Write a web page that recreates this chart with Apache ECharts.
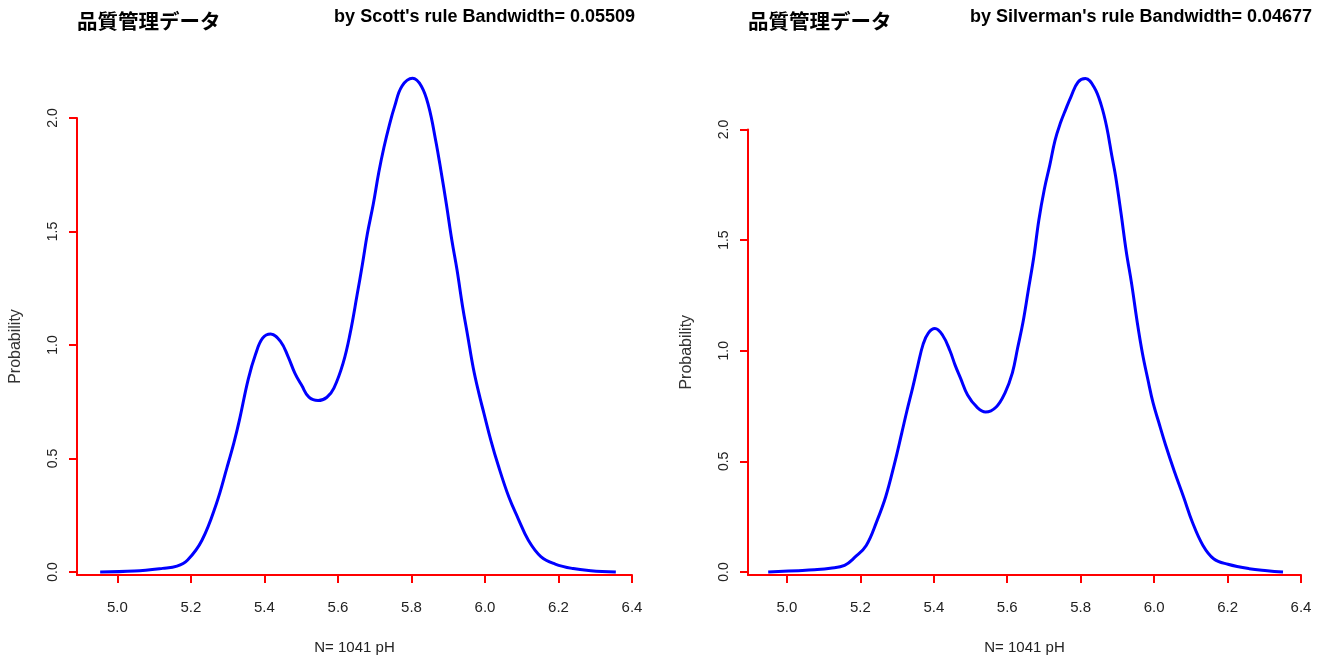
<!DOCTYPE html>
<html>
<head>
<meta charset="utf-8">
<script src="https://cdn.jsdelivr.net/npm/echarts@6/dist/echarts.min.js"></script>
<style>html,body{margin:0;padding:0;background:#fff}#c{width:1330px;height:661px}</style>
</head>
<body>
<div id="c"></div>
<script>
// ---- data ----
const mainTitle = '品質管理データ';
const leftSubtitle = "by Scott's rule Bandwidth= 0.05509";
const rightSubtitle = "by Silverman's rule Bandwidth= 0.04677";
const xAxisTitle = 'N= 1041 pH';
const yAxisTitle = 'Probability';
const xTicks = [5.0, 5.2, 5.4, 5.6, 5.8, 6.0, 6.2, 6.4];
const yTicks = [0.0, 0.5, 1.0, 1.5, 2.0];

const scottX = [4.953,5.046,5.123,5.162,5.191,5.23,5.269,5.298,5.317,5.332,5.356,5.376,5.395,5.417,5.444,5.464,5.483,5.502,5.521,5.546,5.57,5.589,5.614,5.633,5.652,5.667,5.68,5.696,5.711,5.725,5.74,5.754,5.774,5.803,5.827,5.847,5.866,5.88,5.895,5.91,5.924,5.939,5.953,5.968,5.983,5.997,6.016,6.036,6.065,6.089,6.118,6.152,6.191,6.24,6.288,6.356];
const scottY = [0.0,0.004,0.016,0.026,0.053,0.14,0.30,0.46,0.57,0.67,0.85,0.96,1.03,1.048,1.015,0.95,0.875,0.82,0.77,0.755,0.77,0.81,0.92,1.05,1.22,1.36,1.49,1.62,1.76,1.87,1.97,2.05,2.14,2.175,2.14,2.05,1.90,1.77,1.62,1.46,1.33,1.17,1.04,0.90,0.79,0.70,0.58,0.47,0.33,0.24,0.14,0.068,0.035,0.015,0.006,0.0];

const silvX = [4.949,5.031,5.075,5.118,5.157,5.186,5.216,5.245,5.269,5.293,5.313,5.327,5.342,5.356,5.371,5.385,5.403,5.424,5.444,5.458,5.473,5.492,5.517,5.541,5.57,5.594,5.614,5.628,5.643,5.657,5.672,5.686,5.701,5.716,5.73,5.745,5.759,5.774,5.793,5.813,5.837,5.856,5.871,5.885,5.895,5.91,5.924,5.939,5.953,5.968,5.983,5.997,6.012,6.031,6.055,6.08,6.104,6.133,6.162,6.201,6.259,6.308,6.351];
const silvY = [0.0,0.006,0.01,0.017,0.03,0.068,0.12,0.23,0.34,0.49,0.63,0.73,0.83,0.93,1.03,1.08,1.10,1.07,1.00,0.935,0.875,0.80,0.746,0.723,0.746,0.81,0.90,1.01,1.13,1.27,1.42,1.59,1.73,1.84,1.95,2.03,2.09,2.15,2.215,2.23,2.19,2.11,2.01,1.88,1.79,1.62,1.45,1.30,1.14,0.99,0.87,0.765,0.68,0.575,0.455,0.34,0.226,0.12,0.06,0.035,0.015,0.006,0.0];

const zip = (xs, ys) => xs.map((x, i) => [x, ys[i]]);

const RED = '#ff0000';
const TXT = '#222';
const FONT = '"Liberation Sans", Arial, sans-serif';
const CJK = '"Noto Sans CJK JP", sans-serif';

function xAxisCfg(gridIndex, min) {
  return {
    type: 'value', gridIndex, min, max: 6.4,
    splitLine: {show: false},
    axisLine: {show: true, onZero: false, lineStyle: {color: RED, width: 2}},
    axisTick: {show: true, length: 8, lineStyle: {color: RED, width: 2}, customValues: xTicks},
    axisLabel: {customValues: xTicks, formatter: v => v.toFixed(1), color: TXT, fontSize: 15, fontFamily: FONT, margin: 25},
    name: xAxisTitle, nameLocation: 'middle', nameGap: 65,
    nameTextStyle: {color: TXT, fontSize: 15, fontFamily: FONT}
  };
}
function yAxisCfg(gridIndex, min) {
  return {
    type: 'value', gridIndex, min, max: 2.0,
    splitLine: {show: false},
    axisLine: {show: true, onZero: false, lineStyle: {color: RED, width: 2}},
    axisTick: {show: true, length: 8, lineStyle: {color: RED, width: 2}, customValues: yTicks},
    axisLabel: {customValues: yTicks, formatter: v => v.toFixed(1), rotate: 90, color: TXT, fontSize: 14, fontFamily: FONT, margin: 17},
    name: yAxisTitle, nameLocation: 'middle', nameGap: 53, nameRotate: 90,
    nameTextStyle: {color: '#333', fontSize: 16, fontFamily: FONT}
  };
}

const chart = echarts.init(document.getElementById('c'), null, {renderer: 'canvas'});
chart.setOption({
  backgroundColor: '#fff',
  animation: false,
  title: [
    {text: mainTitle, left: 77, top: 11, padding: 0, textStyle: {fontSize: 20.5, fontWeight: 'bold', color: '#000', fontFamily: CJK}},
    {text: leftSubtitle, right: 1330 - 635, top: 8, padding: 0, textStyle: {fontSize: 18, fontWeight: 'bold', color: '#000', fontFamily: FONT}},
    {text: mainTitle, left: 748, top: 11, padding: 0, textStyle: {fontSize: 20.5, fontWeight: 'bold', color: '#000', fontFamily: CJK}},
    {text: rightSubtitle, right: 1330 - 1312, top: 8, padding: 0, textStyle: {fontSize: 18, fontWeight: 'bold', color: '#000', fontFamily: FONT}}
  ],
  grid: [
    {left: 77, top: 118, width: 555, height: 457},
    {left: 748, top: 129.5, width: 553, height: 445.5}
  ],
  xAxis: [xAxisCfg(0, 4.890), xAxisCfg(1, 4.894)],
  yAxis: [yAxisCfg(0, -0.0132), yAxisCfg(1, -0.0136)],
  series: [
    {type: 'line', xAxisIndex: 0, yAxisIndex: 0, data: zip(scottX, scottY), showSymbol: false, clip: false,
     smooth: 0.4, lineStyle: {color: '#0000ff', width: 3}},
    {type: 'line', xAxisIndex: 1, yAxisIndex: 1, data: zip(silvX, silvY), showSymbol: false, clip: false,
     smooth: 0.4, lineStyle: {color: '#0000ff', width: 3}}
  ]
});
</script>
</body>
</html>
